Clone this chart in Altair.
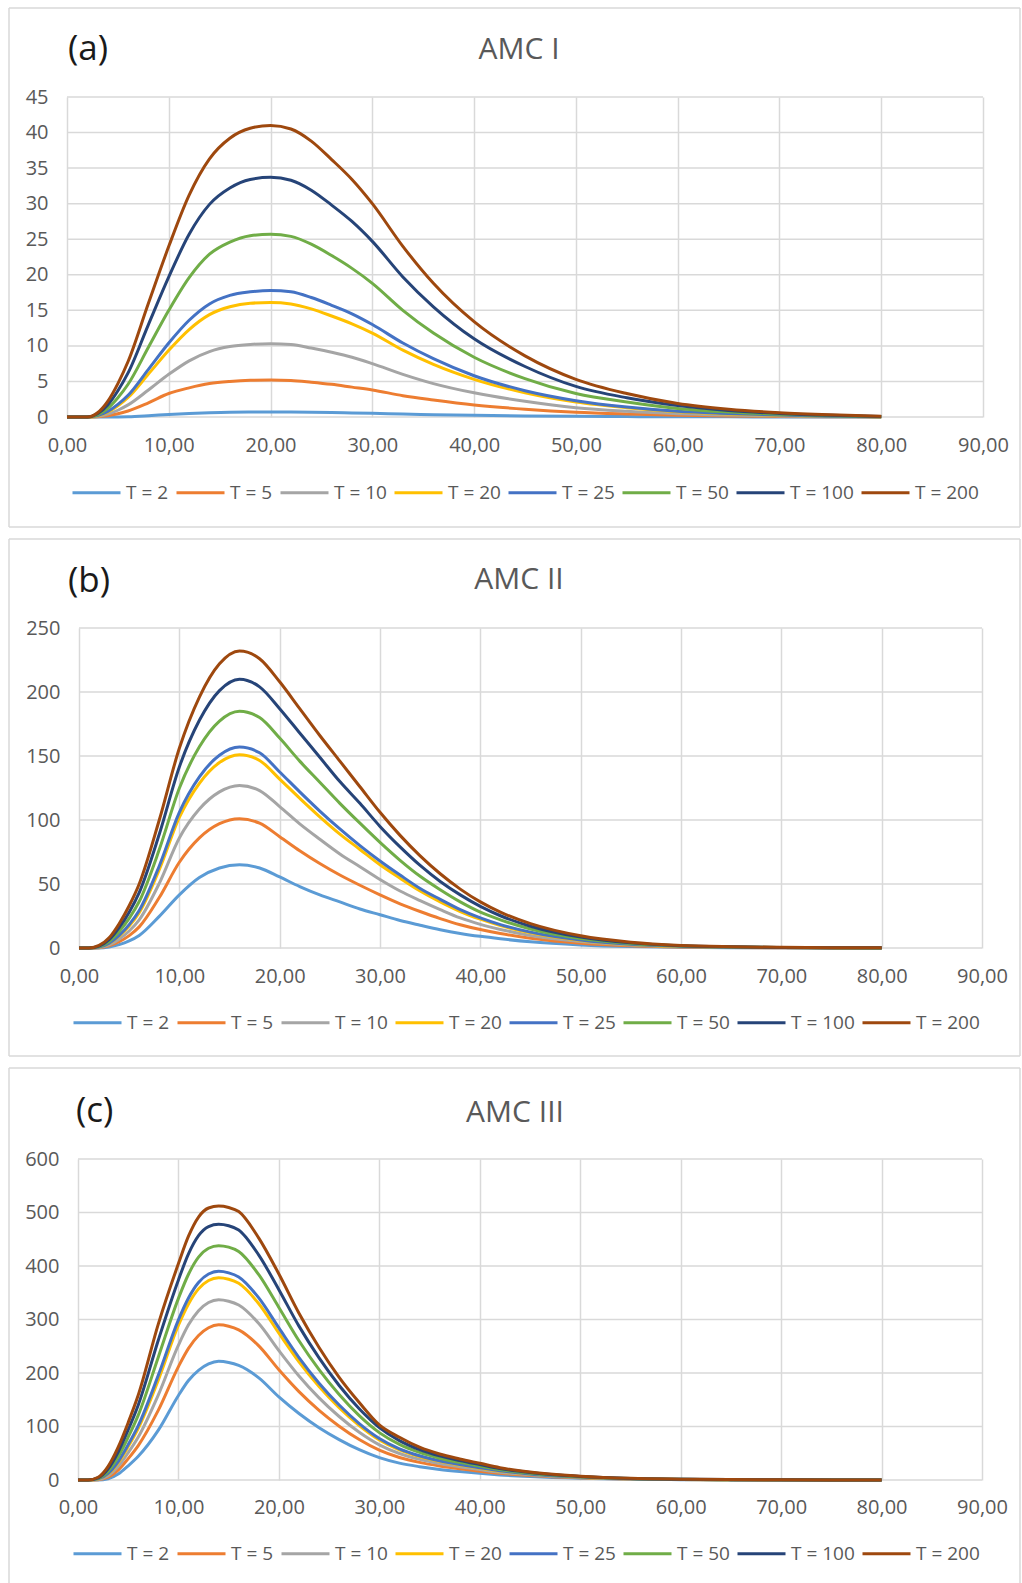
import altair as alt
import pandas as pd

SERIES = ["T = 2", "T = 5", "T = 10", "T = 20", "T = 25", "T = 50", "T = 100", "T = 200"]
COLORS = ["#5B9BD5", "#ED7D31", "#A5A5A5", "#FFC000", "#4472C4", "#70AD47", "#264478", "#9E480E"]
X_TICKS = [0, 10, 20, 30, 40, 50, 60, 70, 80, 90]

# ---------------- (a) AMC I ----------------
X_A = [0, 2, 3, 4, 5, 6, 8, 10, 12, 14, 16, 18, 20, 22, 24, 26, 28, 30, 33, 36, 40, 45, 50, 55, 60, 65, 70, 75, 80]
A_T2 = [0, 0, 0, 0, 0.01, 0.04, 0.18, 0.35, 0.49, 0.6, 0.67, 0.69, 0.7, 0.69, 0.66, 0.62, 0.57, 0.51, 0.41, 0.32, 0.23, 0.15, 0.09, 0.06, 0.03, 0.02, 0.01, 0.005, 0]
A_T5 = [0, 0, 0.04, 0.18, 0.45, 0.85, 2.0, 3.3, 4.1, 4.7, 5.0, 5.16, 5.2, 5.14, 4.9, 4.6, 4.2, 3.8, 3.0, 2.4, 1.7, 1.1, 0.67, 0.42, 0.24, 0.14, 0.08, 0.04, 0.01]
A_T10 = [0, 0, 0.09, 0.4, 0.95, 1.7, 3.8, 6.0, 7.9, 9.2, 9.9, 10.2, 10.3, 10.2, 9.7, 9.1, 8.4, 7.5, 6.0, 4.7, 3.4, 2.2, 1.3, 0.8, 0.47, 0.28, 0.15, 0.07, 0.02]
A_T20 = [0, 0, 0.16, 0.68, 1.57, 2.74, 6.04, 9.38, 12.3, 14.4, 15.5, 16.0, 16.1, 15.9, 15.2, 14.2, 13.1, 11.8, 9.4, 7.4, 5.3, 3.4, 2.1, 1.3, 0.74, 0.43, 0.24, 0.11, 0.03]
A_T25 = [0, 0, 0.19, 0.77, 1.77, 3.05, 6.7, 10.4, 13.6, 15.9, 17.1, 17.6, 17.8, 17.6, 16.8, 15.7, 14.5, 13.0, 10.4, 8.2, 5.8, 3.7, 2.3, 1.4, 0.8, 0.5, 0.27, 0.12, 0.04]
A_T50 = [0, 0, 0.31, 1.2, 2.7, 4.6, 9.8, 15.0, 19.6, 22.9, 24.6, 25.5, 25.7, 25.4, 24.3, 22.7, 20.9, 18.8, 15.0, 11.8, 8.4, 5.4, 3.3, 2.1, 1.2, 0.7, 0.4, 0.18, 0.05]
A_T100 = [0, 0, 0.45, 1.7, 3.7, 6.2, 13.0, 19.7, 25.7, 29.9, 32.2, 33.4, 33.7, 33.3, 31.9, 29.8, 27.5, 24.7, 19.7, 15.5, 11.0, 7.1, 4.3, 2.7, 1.6, 0.9, 0.5, 0.24, 0.07]
A_T200 = [0, 0, 0.6, 2.2, 4.7, 7.8, 16.0, 24.0, 31.2, 36.3, 39.2, 40.6, 41.0, 40.5, 38.8, 36.2, 33.4, 30.0, 24.0, 18.8, 13.4, 8.6, 5.3, 3.3, 1.9, 1.1, 0.6, 0.3, 0.1]

# ---------------- (b) AMC II ----------------
X_B = [0, 1, 2, 3, 4, 5, 6, 8, 10, 12, 14, 16, 18, 20, 22, 24, 26, 28, 30, 32, 34, 36, 38, 40, 42, 45, 50, 55, 60, 65, 70, 75, 80]
B_T2 = [0, 0, 0, 0.8, 2.6, 5.5, 9.8, 24.7, 41.5, 55, 62.5, 65, 62.5, 55.5, 48, 41.5, 36, 30.5, 26, 21.5, 17.8, 14.3, 11.4, 9.1, 7.2, 4.8, 2.4, 1.1, 0.5, 0.26, 0.13, 0.06, 0]
B_T5 = [0, 0, 0.2, 1.7, 4.9, 9.7, 16.5, 39.4, 67, 86, 97.1, 101, 97.5, 87, 76, 66, 57, 49, 41.5, 34.5, 28.5, 23, 18.2, 14.4, 11.3, 7.7, 3.8, 1.8, 0.85, 0.4, 0.2, 0.1, 0]
B_T10 = [0, 0, 0.4, 2.5, 6.9, 13.3, 22, 50.5, 86, 108.6, 122, 127, 123, 110.5, 97, 85, 73.5, 63.5, 53.5, 44.5, 37, 30, 23.5, 18.5, 14.5, 9.8, 5, 2.3, 1.1, 0.5, 0.25, 0.1, 0]
B_T20 = [0, 0, 0.6, 3.5, 9.2, 17.1, 27.6, 61.2, 102, 128.7, 144.9, 151, 146.5, 132, 117, 102.5, 89, 77, 65, 54.5, 44.5, 36, 28.5, 22.5, 17.5, 11.8, 5.9, 2.8, 1.3, 0.6, 0.3, 0.1, 0]
B_T25 = [0, 0, 0.7, 3.8, 9.9, 18.3, 29.3, 64.1, 106, 133.7, 150.6, 157, 152.5, 137.5, 122, 107, 93, 80, 68, 57, 46.5, 38, 30, 23.5, 18.3, 12.4, 6.2, 2.9, 1.4, 0.65, 0.3, 0.12, 0]
B_T50 = [0, 0, 1.1, 5.1, 12.8, 23.1, 36.3, 76.9, 124.8, 157.2, 177.3, 185, 180, 164, 146, 129.5, 113, 97.5, 82.5, 68.5, 56, 45.5, 36, 28, 22, 14.8, 7.4, 3.5, 1.6, 0.8, 0.4, 0.15, 0.05]
B_T100 = [0, 0, 1.5, 6.5, 15.9, 28, 43.3, 88.9, 141.4, 177.9, 201.1, 210, 204, 187, 168, 149, 130, 113, 95, 79, 64.5, 52, 41.5, 32.5, 25.2, 17, 8.5, 4, 1.8, 0.9, 0.4, 0.2, 0.1]
B_T200 = [0, 0, 2, 8, 19, 33, 50, 100, 156, 196, 222, 232, 226, 208, 187, 166, 146, 126, 106, 88, 72, 58, 46, 36, 28, 19, 9.5, 4.5, 2, 1, 0.5, 0.2, 0.1]

# ---------------- (c) AMC III ----------------
X_C = [0, 1, 2, 3, 4, 5, 6, 8, 10, 11, 12, 13, 14, 15, 16, 18, 20, 22, 24, 26, 28, 30, 32, 34, 36, 38, 40, 42, 45, 50, 55, 60, 65, 70, 75, 80]
C_T2 = [0, 0, 0, 2.2, 11.1, 26.6, 44.4, 93.2, 158, 186, 205, 217, 222, 219.8, 214.2, 190.9, 155.4, 124.3, 97.7, 75.5, 56.6, 41.7, 31.5, 24.9, 19.8, 15.8, 12.4, 9.5, 6.4, 3.1, 1.3, 0.67, 0.29, 0.13, 0.04, 0]
C_T5 = [0, 0, 0.6, 5.2, 18.6, 40, 64.4, 130.5, 212, 246, 270, 284.5, 290, 287.4, 280.7, 250.7, 206, 165.2, 130.2, 100.6, 75.6, 55.7, 42, 32.9, 26.2, 20.9, 16.5, 12.6, 8.4, 4.1, 1.7, 0.87, 0.38, 0.17, 0.06, 0]
C_T10 = [0, 0, 1.2, 8.1, 25.1, 51.1, 80.4, 159.2, 252, 290, 316.5, 331.8, 337, 334.2, 327, 292.5, 242, 194.5, 153.5, 118.7, 89.2, 65.7, 49.5, 38.7, 30.7, 24.6, 19.5, 14.7, 9.8, 4.7, 2, 1, 0.44, 0.2, 0.07, 0]
C_T20 = [0, 0, 1.9, 11.3, 32.1, 62.4, 96.4, 187.1, 289.2, 328.9, 357.2, 372.9, 378, 375.2, 367.6, 329.4, 274.4, 220.9, 174.6, 135.1, 101.7, 74.8, 56.3, 43.8, 34.8, 28, 22.1, 16.6, 11, 5.3, 2.3, 1.1, 0.5, 0.23, 0.08, 0]
C_T25 = [0, 0, 2.1, 12.5, 34.5, 66.1, 101.6, 196, 299.3, 340.1, 369.1, 385, 390, 387.2, 379.6, 340.3, 284.2, 228.9, 181, 140.1, 105.5, 77.6, 58.4, 45.4, 36, 29, 22.9, 17.2, 11.3, 5.5, 2.3, 1.2, 0.5, 0.23, 0.08, 0]
C_T50 = [0, 0, 3.1, 16.6, 43.4, 80.2, 121.3, 230, 339.5, 384.6, 416.5, 433.2, 438, 435.2, 427.3, 383.7, 322.5, 260.3, 206.2, 159.7, 120.3, 88.5, 66.5, 51.5, 40.8, 32.9, 26.1, 19.4, 12.7, 6.1, 2.6, 1.3, 0.6, 0.26, 0.09, 0]
C_T100 = [0, 0, 4.1, 21, 52.3, 93.9, 140.3, 261.7, 374, 422.6, 456.7, 473.7, 478, 475.3, 467.4, 420.4, 355.7, 287.6, 228.2, 176.7, 133.3, 98, 73.6, 56.8, 45, 36.4, 28.8, 21.4, 13.9, 6.7, 2.9, 1.4, 0.67, 0.29, 0.1, 0]
C_T200 = [0, 0, 5.1, 25.6, 61.4, 107.5, 158.7, 291.8, 404.5, 455.7, 491.5, 508.4, 512, 509.4, 501.8, 452.1, 385, 311.8, 247.8, 192, 144.9, 103, 79.9, 61.4, 48.6, 39.4, 31.2, 23, 14.8, 7.2, 3.1, 1.5, 0.72, 0.31, 0.1, 0]

FONT = "Open Sans"
TXT = "#595959"
GRID = "#D9D9D9"
LABEL_EXPR = "replace(format(datum.value, '.2f'), '.', ',')"

W = 916          # common view width (all plot origins are aligned by the layout)
FX1, FX2 = -58, 953


def rule(x1, x2, y1, y2):
    return alt.Chart(pd.DataFrame({"k": [0]})).mark_rule(
        stroke=GRID, strokeWidth=1.5
    ).encode(x=alt.value(x1), x2=alt.value(x2), y=alt.value(y1), y2=alt.value(y2))


def panel(xs, series_vals, tag, title, ymax, ystep, geo, bottom_edge=True):
    rows = []
    for name, vals in zip(SERIES, series_vals):
        for xv, yv in zip(xs, vals):
            rows.append({"x": xv, "y": yv, "T": name})
    df = pd.DataFrame(rows)
    h = geo["h"]
    r0, r1 = geo["r0"], geo["r1"]
    fy1, fy2 = geo["fy1"], geo["fy2"]
    yticks = list(range(0, ymax + 1, ystep))

    frame = [rule(FX1, FX2, fy1, fy1), rule(FX1, FX1, fy1, fy2), rule(FX2, FX2, fy1, fy2)]
    if bottom_edge:
        frame.append(rule(FX1, FX2, fy2, fy2))

    y_scale = alt.Scale(domain=[0, ymax], nice=False, zero=True)
    y_axis = alt.Axis(values=yticks, title=None, grid=False,
                      domain=False, ticks=False, tickSize=0, labelPadding=19 - r0,
                      labelFontSize=20, labelFont=FONT, labelColor=TXT,
                      labelOverlap=False)

    hgrid = alt.Chart(pd.DataFrame({"y": yticks})).mark_rule(
        stroke=GRID, strokeWidth=1.5
    ).encode(y=alt.Y("y:Q", scale=y_scale, axis=y_axis),
             x=alt.value(r0), x2=alt.value(r1))

    lines = alt.Chart(df).mark_line(strokeWidth=3, interpolate="monotone").encode(
        x=alt.X("x:Q", scale=alt.Scale(domain=[0, 90], range=[r0, r1], nice=False, zero=False),
                axis=alt.Axis(values=X_TICKS, labelExpr=LABEL_EXPR, title=None,
                              grid=True, gridColor=GRID, gridWidth=1.5,
                              domain=False, ticks=False, tickSize=0, labelPadding=geo["xp"],
                              labelFontSize=20, labelFont=FONT, labelColor=TXT,
                              labelFlush=False, labelOverlap=False)),
        y=alt.Y("y:Q", scale=y_scale, axis=y_axis),
        color=alt.Color("T:N", sort=SERIES,
                        scale=alt.Scale(domain=SERIES, range=COLORS),
                        legend=alt.Legend(orient="none", legendX=geo["lx"], legendY=geo["ly"],
                                          direction="horizontal", columns=8, title=None,
                                          symbolType="stroke", symbolStrokeWidth=3,
                                          symbolSize=2304, labelFontSize=19, labelFont=FONT,
                                          labelColor=TXT, labelOffset=4, columnPadding=1,
                                          padding=0)),
    )

    tag_txt = alt.Chart(pd.DataFrame({"label": [tag]})).mark_text(
        align="left", baseline="middle", fontSize=35, font=FONT, color="#1a1a1a"
    ).encode(x=alt.value(geo["tx"]), y=alt.value(geo["ty"]), text="label:N")

    title_txt = alt.Chart(pd.DataFrame({"label": [title]})).mark_text(
        align="center", baseline="middle", fontSize=30, font=FONT, color=TXT
    ).encode(x=alt.value(geo["hx"]), y=alt.value(geo["hy"]), text="label:N")

    return alt.layer(*frame, hgrid, lines, tag_txt, title_txt).properties(width=W, height=h)


GEO_A = dict(h=320, r0=0, r1=916, fy1=-89, fy2=430, xp=18,
             lx=4, ly=370, tx=1, ty=-48, hx=452, hy=-47)
GEO_B = dict(h=320, r0=12, r1=915, fy1=-89, fy2=428, xp=18,
             lx=5, ly=369, tx=1, ty=-47, hx=452, hy=-48)
GEO_C = dict(h=321, r0=11, r1=915, fy1=-91, fy2=427, xp=17,
             lx=5, ly=369, tx=9, ty=-48, hx=448, hy=-46)

pa = panel(X_A, [A_T2, A_T5, A_T10, A_T20, A_T25, A_T50, A_T100, A_T200], "(a)", "AMC I", 45, 5, GEO_A)
pb = panel(X_B, [B_T2, B_T5, B_T10, B_T20, B_T25, B_T50, B_T100, B_T200], "(b)", "AMC II", 250, 50, GEO_B)
pc = panel(X_C, [C_T2, C_T5, C_T10, C_T20, C_T25, C_T50, C_T100, C_T200], "(c)", "AMC III", 600, 100, GEO_C,
           bottom_edge=False)

chart = alt.vconcat(pa, pb, pc, spacing=8).resolve_scale(
    x="independent", y="independent", color="independent"
).resolve_legend(color="independent").properties(
    padding={"left": 7, "top": 6, "right": 0, "bottom": 0},
    background="white",
).configure_view(stroke="transparent")

chart.save("out.html", embed_options={"renderer": "svg", "actions": False})
